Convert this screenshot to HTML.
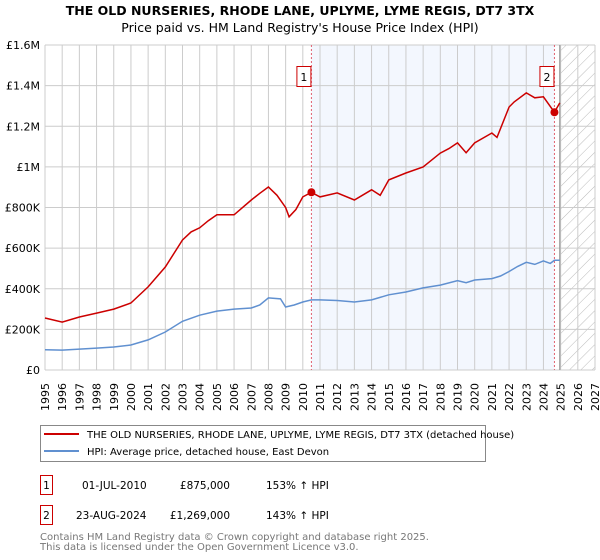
<!DOCTYPE html>
<html><head><meta charset="utf-8"><style>
body{margin:0;background:#fff;font-family:"Liberation Sans","DejaVu Sans",sans-serif}
svg{display:block}
</style></head><body>
<svg width="600" height="560" viewBox="0 0 600 560" font-family="DejaVu Sans, Liberation Sans, sans-serif">
<g font-size="12.5" text-anchor="middle" fill="#000">
<text x="300" y="15" font-weight="bold">THE OLD NURSERIES, RHODE LANE, UPLYME, LYME REGIS, DT7 3TX</text>
<text x="300" y="32">Price paid vs. HM Land Registry's House Price Index (HPI)</text>
</g>
<defs><pattern id="hatch" width="8" height="8" patternUnits="userSpaceOnUse" patternTransform="rotate(45)"><line x1="0" y1="0" x2="0" y2="8" stroke="#bbb" stroke-width="1"/></pattern></defs>
<g id="plot"></g>
<g id="legend">
<rect x="40.5" y="425.5" width="445" height="36" fill="#fff" stroke="#888"/>
<line x1="44" y1="434" x2="79" y2="434" stroke="#cc0000" stroke-width="2"/>
<text x="87" y="438" font-size="10">THE OLD NURSERIES, RHODE LANE, UPLYME, LYME REGIS, DT7 3TX (detached house)</text>
<line x1="44" y1="451" x2="79" y2="451" stroke="#6090d0" stroke-width="2"/>
<text x="87" y="455" font-size="10">HPI: Average price, detached house, East Devon</text>
</g>
<g font-size="10.5">
<rect x="40.5" y="475.5" width="12" height="19" fill="#fff" stroke="#cc0000"/>
<text x="46.5" y="489" text-anchor="middle">1</text>
<text x="82" y="489">01-JUL-2010</text>
<text x="230" y="489" text-anchor="end">£875,000</text>
<text x="266" y="489">153% ↑ HPI</text>
<rect x="40.5" y="505.5" width="12" height="19" fill="#fff" stroke="#cc0000"/>
<text x="46.5" y="519" text-anchor="middle">2</text>
<text x="76" y="519">23-AUG-2024</text>
<text x="230" y="519" text-anchor="end">£1,269,000</text>
<text x="266" y="519">143% ↑ HPI</text>
</g>
<g font-size="10" fill="#777">
<text x="40" y="540">Contains HM Land Registry data © Crown copyright and database right 2025.</text>
<text x="40" y="550">This data is licensed under the Open Government Licence v3.0.</text>
</g>
</svg>
<script>
const years=[1995,1996,1997,1998,1999,2000,2001,2002,2003,2004,2005,2006,2007,2008,2009,2010,2011,2012,2013,2014,2015,2016,2017,2018,2019,2020,2021,2022,2023,2024,2025];
const hpiTimes=[1995,1996,1997,1998,1999,2000,2001,2002,2003,2004,2005,2006,2007,2007.5,2008,2008.7,2009,2009.5,2010,2010.5,2011,2012,2013,2014,2015,2016,2017,2018,2019,2019.5,2020,2021,2021.5,2022,2022.5,2023,2023.5,2024,2024.4,2024.64,2024.95];
const hpiValues=[100000,98000,103000,108000,113000,123000,148000,187000,240000,270000,290000,300000,305000,320000,355000,350000,310000,320000,335000,345000,345000,342000,335000,345000,370000,384000,404000,418000,440000,430000,443000,450000,463000,485000,510000,530000,520000,537000,525000,540000,540000];
const priceTimes=[1995,1996,1997,1998,1999,2000,2001,2002,2003,2003.5,2004,2004.5,2005,2006,2007,2007.5,2008,2008.5,2009,2009.2,2009.6,2010,2010.5,2011,2012,2013,2014,2014.5,2015,2016,2017,2018,2018.5,2019,2019.5,2020,2021,2021.3,2022,2022.3,2023,2023.5,2024,2024.64,2024.95];
const priceValues=[256000,236000,261000,280000,300000,330000,409000,507000,640000,680000,700000,735000,764000,764000,837000,870000,901000,860000,800000,754000,790000,852000,875000,852000,872000,837000,887000,860000,936000,970000,1000000,1068000,1090000,1118000,1070000,1118000,1167000,1145000,1295000,1320000,1364000,1340000,1345000,1269000,1315000];
const yTicks=[0,200000,400000,600000,800000,1000000,1200000,1400000,1600000];
const yTickLabels=["£0","£200K","£400K","£600K","£800K","£1M","£1.2M","£1.4M","£1.6M"];
const sales=[{n:"1",t:2010.5,v:875000},{n:"2",t:2024.64,v:1269000}];
const X0=45,X1=595,Y0=370,Y1=45,T0=1995,T1=2027,VMAX=1600000;
const sx=t=>X0+(t-T0)/(T1-T0)*(X1-X0);
const sy=v=>Y0-v/VMAX*(Y0-Y1);
const NS="http://www.w3.org/2000/svg";
const g=document.getElementById('plot');
function mk(tag,attrs,parent){const e=document.createElementNS(NS,tag);for(const k in attrs)e.setAttribute(k,attrs[k]);(parent||g).appendChild(e);return e;}
let r=mk('rect',{x:sx(sales[0].t),y:Y1,width:sx(sales[1].t)-sx(sales[0].t),height:Y0-Y1,fill:'#eef3fd',opacity:0.7});


let h=mk('rect',{x:sx(2024.95),y:Y1,width:X1-sx(2024.95),height:Y0-Y1,fill:'url(#hatch)'});


years.concat([2026,2027]).forEach(yr=>{
 const l=mk('line',{x1:sx(yr),x2:sx(yr),y1:Y1,y2:Y0,stroke:'#ccc','stroke-width':1});
 
 
 const t=mk('text',{x:0,y:0,'font-size':11,'text-anchor':'end',transform:`translate(${sx(yr)+4},383) rotate(-90)`});
 t.textContent=yr;
 
 
});
yTicks.forEach((v,i)=>{
 const l=mk('line',{x1:X0,x2:X1,y1:sy(v),y2:sy(v),stroke:'#ccc','stroke-width':1});
 
 
 const t=mk('text',{x:X0-5,y:sy(v)+4,'font-size':11,'text-anchor':'end'});
 t.textContent=yTickLabels[i];
 
 
});
let dl=mk('line',{x1:sx(2024.95),x2:sx(2024.95),y1:Y1,y2:Y0,stroke:'#999','stroke-width':1.2});


sales.forEach(s=>{
 const l=mk('line',{x1:sx(s.t),x2:sx(s.t),y1:Y1,y2:Y0,stroke:'#e06070','stroke-width':1,'stroke-dasharray':'2,2'});
 
 
 const b=mk('rect',{x:sx(s.t)-14.5,y:66.5,width:14,height:20,fill:'#fff',stroke:'#cc0000'});
 
 
 const t=mk('text',{x:sx(s.t)-7.5,y:81,'font-size':11,'text-anchor':'middle'});
 t.textContent=s.n;
 
 
});
const pathOf=(ts,vs)=>ts.map((t,i)=>(i?'L':'M')+sx(t).toFixed(1)+','+sy(vs[i]).toFixed(1)).join('');
let hp=mk('path',{d:pathOf(hpiTimes,hpiValues),fill:'none',stroke:'#6090d0','stroke-width':1.5});


let pp=mk('path',{d:pathOf(priceTimes,priceValues),fill:'none',stroke:'#cc0000','stroke-width':1.5});


sales.forEach(s=>{
 const c=mk('circle',{cx:sx(s.t),cy:sy(s.v),r:4,fill:'#cc0000'});
 
 
});
</script>
</body></html>
